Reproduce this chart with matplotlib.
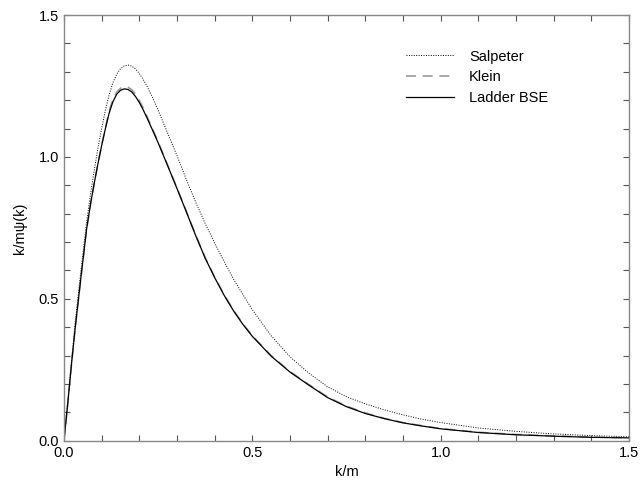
import matplotlib
matplotlib.use("Agg")
import matplotlib.pyplot as plt
from matplotlib.ticker import MultipleLocator, FormatStrFormatter

plt.rcParams["font.family"] = ["Liberation Sans", "DejaVu Sans"]
plt.rcParams["font.size"] = 10.5

k_values = [0.0, 0.01, 0.02, 0.03, 0.045, 0.06, 0.07, 0.08, 0.09, 0.10,
            0.11, 0.12, 0.13, 0.14, 0.15, 0.16, 0.17, 0.18, 0.19, 0.20,
            0.21, 0.22, 0.235, 0.25, 0.275, 0.30, 0.325, 0.35, 0.375, 0.40,
            0.425, 0.45, 0.475, 0.50, 0.55, 0.60, 0.65, 0.70, 0.75, 0.80,
            0.85, 0.90, 0.95, 1.0, 1.1, 1.2, 1.3, 1.4, 1.5]

salpeter = [0.0, 0.14, 0.28, 0.42, 0.60, 0.77, 0.865, 0.95, 1.03, 1.10,
            1.165, 1.22, 1.262, 1.292, 1.311, 1.321, 1.324, 1.320, 1.310, 1.294,
            1.274, 1.250, 1.210, 1.165, 1.085, 1.005, 0.92, 0.84, 0.765, 0.697,
            0.632, 0.57, 0.515, 0.462, 0.37, 0.296, 0.238, 0.19, 0.155, 0.13,
            0.109, 0.091, 0.076, 0.064, 0.045, 0.033, 0.024, 0.018, 0.014]

klein = [0.0, 0.13, 0.27, 0.40, 0.575, 0.745, 0.83, 0.905, 0.975, 1.042,
         1.103, 1.162, 1.203, 1.229, 1.242, 1.248, 1.246, 1.237, 1.221, 1.199,
         1.173, 1.144, 1.099, 1.053, 0.972, 0.891, 0.808, 0.724, 0.645, 0.577,
         0.515, 0.46, 0.412, 0.37, 0.30, 0.244, 0.198, 0.154, 0.122, 0.098,
         0.079, 0.064, 0.053, 0.043, 0.030, 0.022, 0.017, 0.013, 0.011]

ladder = [0.0, 0.13, 0.27, 0.40, 0.575, 0.745, 0.83, 0.905, 0.975, 1.04,
          1.10, 1.155, 1.195, 1.221, 1.235, 1.240, 1.238, 1.229, 1.213, 1.192,
          1.167, 1.139, 1.095, 1.050, 0.970, 0.889, 0.806, 0.722, 0.643, 0.575,
          0.513, 0.458, 0.410, 0.368, 0.298, 0.242, 0.196, 0.152, 0.12, 0.096,
          0.078, 0.063, 0.052, 0.042, 0.029, 0.021, 0.016, 0.012, 0.010]


def main() -> None:
    fig = plt.figure(figsize=(6.41, 4.87), dpi=100)
    ax = fig.add_axes([0.0998, 0.095, 0.8815, 0.874])

    ax.plot(k_values, salpeter, color="black", linestyle=(0, (1, 1.5)),
            linewidth=0.7, label="Salpeter")
    ax.plot(k_values, klein, color="#9a9a9a", linestyle=(0, (6, 4)),
            linewidth=1.2, label="Klein")
    ax.plot(k_values, ladder, color="black", linestyle="-",
            linewidth=0.9, label="Ladder BSE")

    ax.set_xlim(0.0, 1.5)
    ax.set_ylim(0.0, 1.5)
    ax.xaxis.set_major_locator(MultipleLocator(0.5))
    ax.xaxis.set_minor_locator(MultipleLocator(0.1))
    ax.yaxis.set_major_locator(MultipleLocator(0.5))
    ax.yaxis.set_minor_locator(MultipleLocator(0.1))
    ax.xaxis.set_major_formatter(FormatStrFormatter("%.1f"))
    ax.yaxis.set_major_formatter(FormatStrFormatter("%.1f"))
    ax.tick_params(which="both", direction="in", top=True, right=True,
                   length=4, width=0.8, color="#555555", labelsize=10.5)
    for spine in ax.spines.values():
        spine.set_color("#888888")
        spine.set_linewidth(1.0)

    ax.set_xlabel("k/m", labelpad=4)
    ax.set_ylabel("k/m\u03c8(k)", labelpad=8)

    ax.legend(loc="upper right", bbox_to_anchor=(0.88, 0.95), frameon=False,
              handlelength=3.3, handletextpad=1.0, labelspacing=0.45,
              fontsize=10.5)

    fig.savefig("out.png", dpi=100)
    plt.close(fig)


if __name__ == "__main__":
    main()
